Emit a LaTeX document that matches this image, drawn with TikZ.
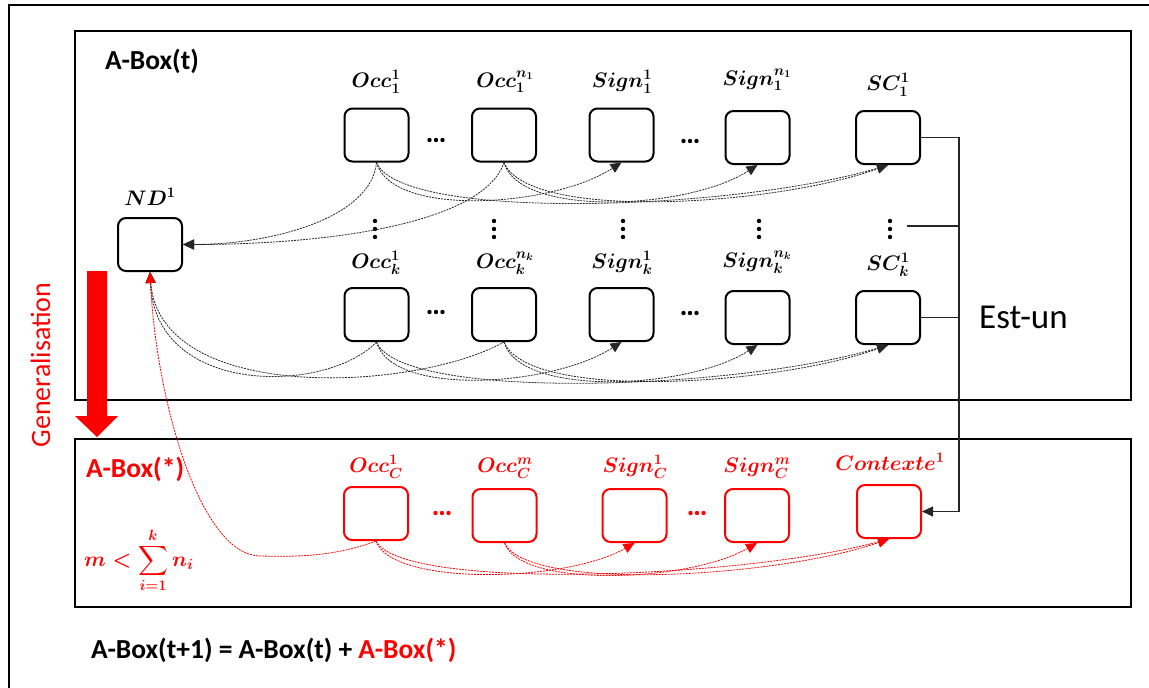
\RequirePackage{fix-cm}
\documentclass[tikz,border=0pt]{standalone}
\usepackage{exscale}
\usepackage{fontspec}
\setmainfont{Carlito}
\usetikzlibrary{arrows.meta}
\begin{document}
\begin{tikzpicture}[x=1pt,y=-1pt,
  box/.style={draw, line width=2pt, rounded corners=8pt, minimum width=64pt, minimum height=53pt, inner sep=0pt},
  rbox/.style={box, draw=red},
  lab/.style={anchor=base, inner sep=0pt, font=\fontsize{21}{24}\selectfont\boldmath},
  rlab/.style={lab, text=red},
  tip/.style={-{Triangle[length=11pt,width=10pt]}},
  dep/.style={draw=black!85, line width=0.8pt, dash pattern=on 2pt off 1pt, tip},
  rdep/.style={dep, draw=red},
  frame/.style={line width=2.5pt},
  isa/.style={draw=black!85, line width=1.1pt},
  big/.style={anchor=base west, inner sep=0pt, font=\bfseries\fontsize{27.5}{31}\selectfont}
]
\useasboundingbox (0,0) rectangle (1149,688);
% outer frame (only top and left visible)
\draw[line width=2pt] (1160,5) -- (9,5) -- (9,700);
% A-Box frames
\draw[frame] (75,31) rectangle (1131,400);
\draw[frame] (75,439) rectangle (1131,607);

% titles
\node[big] (tA) at (105,69) {A-Box(t)};
\node[big, text=red] (tS) at (86,477) {A-Box(*)};
\node[anchor=base west, inner sep=0pt, font=\fontsize{35}{40}\selectfont] (est) at (979,328) {Est-un};
\node[rotate=90, anchor=base, inner sep=0pt, text=red, font=\fontsize{28}{32}\selectfont] (gen) at (50,365) {Generalisation};
\node[big] (eq) at (91,658) {A-Box(t+1) = A-Box(t) + \textcolor{red}{A-Box(*)}};
\node[anchor=base west, inner sep=0pt, text=red, font=\fontsize{21}{25}\selectfont\boldmath] (sum) at (84,566) {$\displaystyle m<\sum_{i=1}^{k} n_i$};

% generalisation arrow
\fill[red] (87,271) -- (107,271) -- (107,416) -- (118,416) -- (97,437) -- (75,416) -- (87,416) -- cycle;

% boxes
\node[box] (nd) at (150,244.5) {};
\node[box] (o11) at (376.5,135) {};
\node[box] (o1n) at (504,135) {};
\node[box] (s11) at (621.5,135) {};
\node[box] (s1n) at (757.5,137.5) {};
\node[box] (sc1) at (888,137.5) {};
\node[box] (ok1) at (376.5,314.5) {};
\node[box] (okn) at (504,314.5) {};
\node[box] (sk1) at (621.5,314.5) {};
\node[box] (skn) at (757.5,317.5) {};
\node[box] (sck) at (888,317.5) {};
\node[rbox] (oc1) at (376,513.5) {};
\node[rbox] (ocm) at (504.5,515.5) {};
\node[rbox] (sc1c) at (634.5,515.5) {};
\node[rbox] (scm) at (757,515.5) {};
\node[rbox] (ctx) at (889,511.5) {};

% labels
\node[lab] (lnd) at (150,205) {$ND^1$};
\node[lab] (lo11) at (376,87) {$Occ_1^1$};
\node[lab] (lo1n) at (505,87) {$Occ_1^{n_1}$};
\node[lab] (ls11) at (622,87) {$Sign_1^1$};
\node[lab] (ls1n) at (757,85) {$Sign_1^{n_1}$};
\node[lab] (lsc1) at (888,90) {$SC_1^1$};
\node[lab] (lok1) at (376,268) {$Occ_k^1$};
\node[lab] (lokn) at (505,268) {$Occ_k^{n_k}$};
\node[lab] (lsk1) at (622,268) {$Sign_k^1$};
\node[lab] (lskn) at (757,267) {$Sign_k^{n_k}$};
\node[lab] (lsck) at (888,270) {$SC_k^1$};
\node[rlab] (loc1) at (376,472) {$Occ_C^1$};
\node[rlab] (locm) at (505,472) {$Occ_C^m$};
\node[rlab] (lsc1c) at (635,472) {$Sign_C^1$};
\node[rlab] (lscm) at (757,472) {$Sign_C^m$};
\node[rlab] (lctx) at (890,470) {$Contexte^1$};

% horizontal dots
\foreach \x/\y in {436/140, 690/141, 436/312, 690/313} {
  \foreach \d in {-6.5,0,6.5} \fill (\x+\d,\y) circle (2.2);
}
\foreach \x/\y in {442/513, 697/513} {
  \foreach \d in {-6.5,0,6.5} \fill[red] (\x+\d,\y) circle (2.2);
}
% vertical dots
\foreach \x in {375,494,623,759,890} {
  \foreach \d in {-8,0,8} \fill (\x,229+\d) circle (2.2);
}

% Est-un connectors
\coordinate (bus) at (959,0);
\coordinate (vd) at (907,226);
\draw[isa, tip] (sc1.east) -- (sc1.east -| bus) -- (ctx.east -| bus) -- (ctx.east);
\draw[isa] (sck.east) -- (sck.east -| bus);
\draw[isa] (vd) -- (vd -| bus);

% row 1 dependencies
\draw[dep] (o11.south) .. controls +(-5,55) and +(90,0) .. (nd.east);
\draw[dep] (o1n.south) .. controls +(-20,60) and +(150,0) .. (nd.east);
\draw[dep] (o11.south) .. controls +(15,55) and +(-70,45) .. (s11.south);
\draw[dep] (o11.south) .. controls +(25,60) and +(-150,45) .. (sc1.south);
\draw[dep] (o1n.south) .. controls +(15,55) and +(-70,45) .. (s1n.south);
\draw[dep] (o1n.south) .. controls +(25,60) and +(-110,40) .. (sc1.south);

% row k dependencies
\draw[dep] (ok1.south) .. controls +(-50,52) and +(5,125) .. (nd.south);
\draw[dep] (okn.south) .. controls +(-90,50) and +(10,132) .. (nd.south);
\draw[dep] (ok1.south) .. controls +(15,55) and +(-70,45) .. (sk1.south);
\draw[dep] (ok1.south) .. controls +(25,60) and +(-150,45) .. (sck.south);
\draw[dep] (okn.south) .. controls +(15,55) and +(-70,45) .. (skn.south);
\draw[dep] (okn.south) .. controls +(25,60) and +(-110,40) .. (sck.south);

% row C dependencies
\coordinate (rbend) at (260,556);
\draw[rdep] (oc1.south) .. controls +(-40,15) and +(40,1) .. (rbend)
   .. controls +(-60,-1) and +(6,128) .. (nd.south);
\draw[rdep] (oc1.south) .. controls +(15,45) and +(-70,40) .. (sc1c.south);
\draw[rdep] (oc1.south) .. controls +(25,50) and +(-150,40) .. (ctx.south);
\draw[rdep] (ocm.south) .. controls +(15,45) and +(-70,40) .. (scm.south);
\draw[rdep] (ocm.south) .. controls +(25,50) and +(-110,38) .. (ctx.south);
\end{tikzpicture}
\end{document}
